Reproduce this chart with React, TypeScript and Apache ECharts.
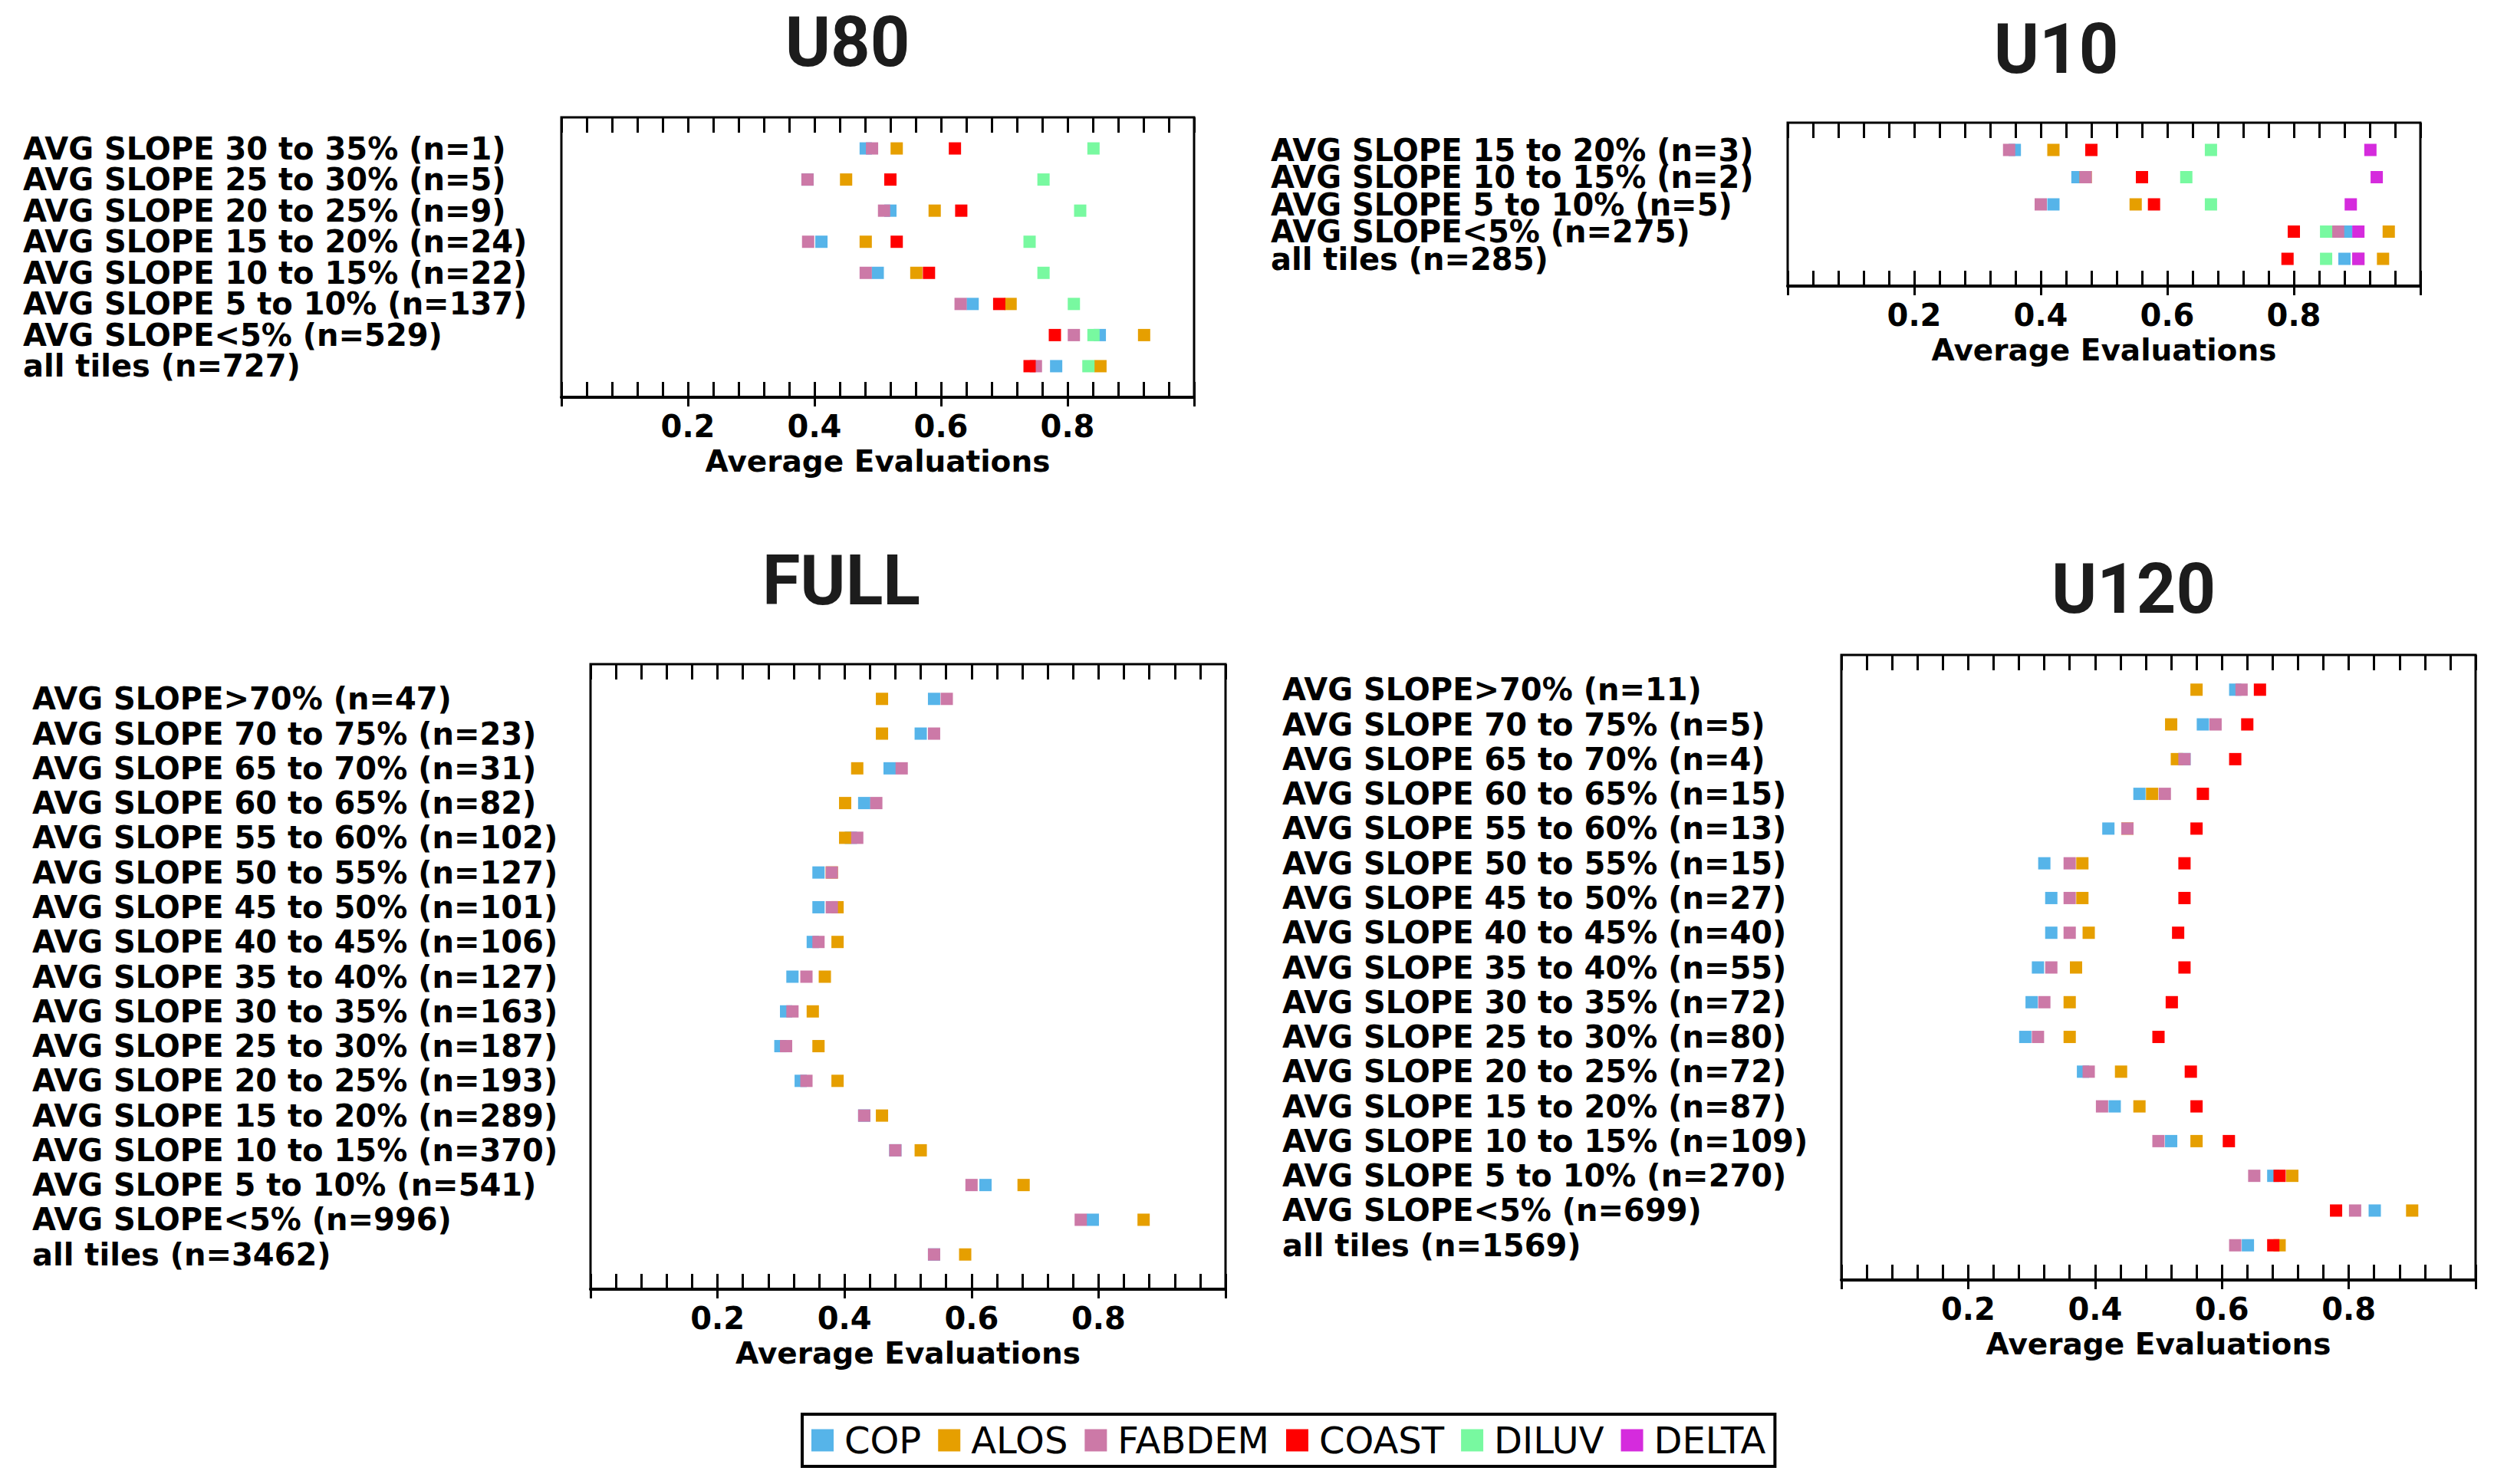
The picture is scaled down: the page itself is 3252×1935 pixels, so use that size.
import React, { useEffect, useRef } from 'react';
import * as echarts from 'echarts';

const DEM_NAMES = ['COP', 'ALOS', 'FABDEM', 'COAST', 'DILUV', 'DELTA'];
const DEM_COLORS = ['#56B4E9', '#E69F00', '#CC79A7', '#FF0000', '#78F9A0', '#D52BDD'];
const X_TICK_LABELS = ['0.2', '0.4', '0.6', '0.8'];
const X_AXIS_NAME = 'Average Evaluations';

// ---------- U80 ----------
const U80_ROWS = [
  'AVG SLOPE 30 to 35% (n=1)',
  'AVG SLOPE 25 to 30% (n=5)',
  'AVG SLOPE 20 to 25% (n=9)',
  'AVG SLOPE 15 to 20% (n=24)',
  'AVG SLOPE 10 to 15% (n=22)',
  'AVG SLOPE 5 to 10% (n=137)',
  'AVG SLOPE<5% (n=529)',
  'all tiles (n=727)',
];
const U80_COP = [0.481, 0.389, 0.52, 0.411, 0.5, 0.65, 0.851, 0.782];
const U80_ALOS = [0.53, 0.45, 0.59, 0.481, 0.561, 0.71, 0.921, 0.852];
const U80_FABDEM = [0.491, 0.389, 0.51, 0.39, 0.481, 0.631, 0.81, 0.75];
const U80_COAST = [0.622, 0.52, 0.632, 0.53, 0.581, 0.692, 0.78, 0.74];
const U80_DILUV = [0.841, 0.762, 0.82, 0.74, 0.762, 0.81, 0.841, 0.833];

// ---------- U10 ----------
const U10_ROWS = [
  'AVG SLOPE 15 to 20% (n=3)',
  'AVG SLOPE 10 to 15% (n=2)',
  'AVG SLOPE 5 to 10% (n=5)',
  'AVG SLOPE<5% (n=275)',
  'all tiles (n=285)',
];
const U10_COP = [0.359, 0.458, 0.42, 0.883, 0.88];
const U10_ALOS = [0.42, 0.471, 0.55, 0.95, 0.941];
const U10_FABDEM = [0.35, 0.471, 0.4, 0.87, 0.902];
const U10_COAST = [0.48, 0.56, 0.579, 0.8, 0.79];
const U10_DILUV = [0.669, 0.63, 0.669, 0.851, 0.851];
const U10_DELTA = [0.921, 0.931, 0.89, 0.902, 0.902];

// ---------- FULL ----------
const FULL_ROWS = [
  'AVG SLOPE>70% (n=47)',
  'AVG SLOPE 70 to 75% (n=23)',
  'AVG SLOPE 65 to 70% (n=31)',
  'AVG SLOPE 60 to 65% (n=82)',
  'AVG SLOPE 55 to 60% (n=102)',
  'AVG SLOPE 50 to 55% (n=127)',
  'AVG SLOPE 45 to 50% (n=101)',
  'AVG SLOPE 40 to 45% (n=106)',
  'AVG SLOPE 35 to 40% (n=127)',
  'AVG SLOPE 30 to 35% (n=163)',
  'AVG SLOPE 25 to 30% (n=187)',
  'AVG SLOPE 20 to 25% (n=193)',
  'AVG SLOPE 15 to 20% (n=289)',
  'AVG SLOPE 10 to 15% (n=370)',
  'AVG SLOPE 5 to 10% (n=541)',
  'AVG SLOPE<5% (n=996)',
  'all tiles (n=3462)',
];
const FULL_COP = [0.541, 0.52, 0.471, 0.431, 0.41, 0.359, 0.359, 0.35, 0.318, 0.308, 0.299, 0.331, 0.431, 0.48, 0.622, 0.791, 0.541];
const FULL_ALOS = [0.459, 0.459, 0.42, 0.401, 0.401, 0.38, 0.389, 0.389, 0.369, 0.35, 0.359, 0.389, 0.459, 0.52, 0.682, 0.871, 0.59];
const FULL_FABDEM = [0.561, 0.541, 0.49, 0.45, 0.42, 0.38, 0.38, 0.359, 0.34, 0.318, 0.308, 0.34, 0.431, 0.48, 0.6, 0.772, 0.541];

// ---------- U120 ----------
const U120_ROWS = [
  'AVG SLOPE>70% (n=11)',
  'AVG SLOPE 70 to 75% (n=5)',
  'AVG SLOPE 65 to 70% (n=4)',
  'AVG SLOPE 60 to 65% (n=15)',
  'AVG SLOPE 55 to 60% (n=13)',
  'AVG SLOPE 50 to 55% (n=15)',
  'AVG SLOPE 45 to 50% (n=27)',
  'AVG SLOPE 40 to 45% (n=40)',
  'AVG SLOPE 35 to 40% (n=55)',
  'AVG SLOPE 30 to 35% (n=72)',
  'AVG SLOPE 25 to 30% (n=80)',
  'AVG SLOPE 20 to 25% (n=72)',
  'AVG SLOPE 15 to 20% (n=87)',
  'AVG SLOPE 10 to 15% (n=109)',
  'AVG SLOPE 5 to 10% (n=270)',
  'AVG SLOPE<5% (n=699)',
  'all tiles (n=1569)',
];
const U120_COP = [0.621, 0.57, 0.541, 0.47, 0.421, 0.32, 0.331, 0.331, 0.31, 0.3, 0.29, 0.381, 0.431, 0.52, 0.681, 0.841, 0.641];
const U120_ALOS = [0.56, 0.52, 0.529, 0.49, 0.451, 0.38, 0.38, 0.39, 0.37, 0.36, 0.36, 0.441, 0.47, 0.56, 0.711, 0.9, 0.691];
const U120_FABDEM = [0.631, 0.59, 0.541, 0.51, 0.451, 0.36, 0.36, 0.36, 0.331, 0.32, 0.31, 0.39, 0.411, 0.5, 0.651, 0.81, 0.621];
const U120_COAST = [0.66, 0.64, 0.621, 0.57, 0.56, 0.541, 0.541, 0.531, 0.541, 0.521, 0.5, 0.551, 0.56, 0.611, 0.691, 0.78, 0.681];

const PANELS = [
  {
    title: 'U80', rows: U80_ROWS,
    values: [U80_COP, U80_ALOS, U80_FABDEM, U80_COAST, U80_DILUV, null],
    left: 732, top: 153, width: 825, height: 365, labelLeft: 30, titleX: 1105, titleTop: 10,
  },
  {
    title: 'U10', rows: U10_ROWS,
    values: [U10_COP, U10_ALOS, U10_FABDEM, U10_COAST, U10_DILUV, U10_DELTA],
    left: 2331, top: 160, width: 825, height: 213, labelLeft: 1657, titleX: 2681, titleTop: 19,
  },
  {
    title: 'FULL', rows: FULL_ROWS,
    values: [FULL_COP, FULL_ALOS, FULL_FABDEM, null, null, null],
    left: 770, top: 866, width: 828, height: 815, labelLeft: 42, titleX: 1097, titleTop: 712,
  },
  {
    title: 'U120', rows: U120_ROWS,
    values: [U120_COP, U120_ALOS, U120_FABDEM, U120_COAST, null, null],
    left: 2401, top: 854, width: 827, height: 815, labelLeft: 1672, titleX: 2782, titleTop: 723,
  },
];

const LABEL_FONT = 'DejaVu Sans';

function buildOption() {
  const grid: any[] = [];
  const xAxis: any[] = [];
  const yAxis: any[] = [];
  const title: any[] = [];
  const series: any[] = [];

  PANELS.forEach((p, i) => {
    const rowStep = p.height / (p.rows.length + 1);
    grid.push({
      left: p.left, top: p.top, width: p.width, height: p.height,
      show: true, borderColor: '#000', borderWidth: 3, backgroundColor: 'rgba(0,0,0,0)',
    });
    title.push({
      text: p.title, left: p.titleX, top: p.titleTop, textAlign: 'center', padding: 0,
      textStyle: { fontFamily: 'Roboto', fontWeight: 'bold', fontSize: 90, color: '#1c1c1c' },
    });
    // main bottom axis: major ticks outside + labels + name
    xAxis.push({
      gridIndex: i, type: 'value', min: 0, max: 1, interval: 0.2, position: 'bottom',
      axisLine: { show: true, onZero: false, lineStyle: { color: '#000', width: 4 } },
      axisTick: { show: true, inside: false, length: 12, lineStyle: { color: '#000', width: 3 } },
      axisLabel: {
        margin: 18, fontFamily: LABEL_FONT, fontWeight: 'bold', fontSize: 40, color: '#000',
        formatter: (v: number) => {
          const s = v.toFixed(1);
          return X_TICK_LABELS.indexOf(s) >= 0 ? s : '';
        },
      },
      splitLine: { show: false },
      name: X_AXIS_NAME, nameLocation: 'middle', nameGap: 64,
      nameTextStyle: { fontFamily: LABEL_FONT, fontWeight: 'bold', fontSize: 39, color: '#000' },
    });
    // bottom inside minor ticks
    xAxis.push({
      gridIndex: i, type: 'value', min: 0, max: 1, interval: 0.04, position: 'bottom',
      axisLine: { show: false, onZero: false },
      axisTick: { show: true, inside: true, length: 20, lineStyle: { color: '#000', width: 3 } },
      axisLabel: { show: false }, splitLine: { show: false },
    });
    // top inside minor ticks
    xAxis.push({
      gridIndex: i, type: 'value', min: 0, max: 1, interval: 0.04, position: 'top',
      axisLine: { show: false, onZero: false },
      axisTick: { show: true, inside: true, length: 20, lineStyle: { color: '#000', width: 3 } },
      axisLabel: { show: false }, splitLine: { show: false },
    });
    yAxis.push({
      gridIndex: i, type: 'category', inverse: true, boundaryGap: false,
      data: ['', ...p.rows, ''],
      axisLine: { show: false }, axisTick: { show: false }, splitLine: { show: false },
      axisLabel: {
        interval: 0, align: 'left', margin: p.left - p.labelLeft,
        fontFamily: LABEL_FONT, fontWeight: 'bold', fontSize: 40, color: '#000',
        lineHeight: Math.min(40, Math.floor(rowStep) - 1),
      },
    });
    p.values.forEach((vals, d) => {
      if (!vals) return;
      series.push({
        type: 'scatter', name: DEM_NAMES[d], xAxisIndex: i * 3, yAxisIndex: i,
        data: vals.map((v, r) => [v, r + 1]),
        symbol: 'rect', symbolSize: 16,
        itemStyle: { color: DEM_COLORS[d], opacity: 1 },
        silent: true, emphasis: { disabled: true },
      });
    });
  });

  return {
    animation: false,
    backgroundColor: '#fff',
    title, grid, xAxis, yAxis, series,
    legend: {
      left: 1046, top: 1844, orient: 'horizontal', data: DEM_NAMES,
      itemWidth: 29, itemHeight: 29, itemGap: 22, icon: 'rect',
      padding: [10, 12, 10, 12], borderColor: '#000', borderWidth: 4, backgroundColor: '#fff',
      selectedMode: false,
      textStyle: { fontFamily: LABEL_FONT, fontSize: 48, color: '#000', padding: [0, 0, 0, 9] },
    },
  };
}

export default function App() {
  const ref = useRef<HTMLDivElement>(null);
  useEffect(() => {
    if (!ref.current) return;
    const chart = echarts.init(ref.current, null, { renderer: 'svg' });
    chart.setOption(buildOption() as any);
    return () => chart.dispose();
  }, []);
  return (
    <div
      ref={ref}
      style={{ position: 'fixed', left: 0, top: 0, width: 3252, height: 1935, background: '#fff' }}
    />
  );
}
